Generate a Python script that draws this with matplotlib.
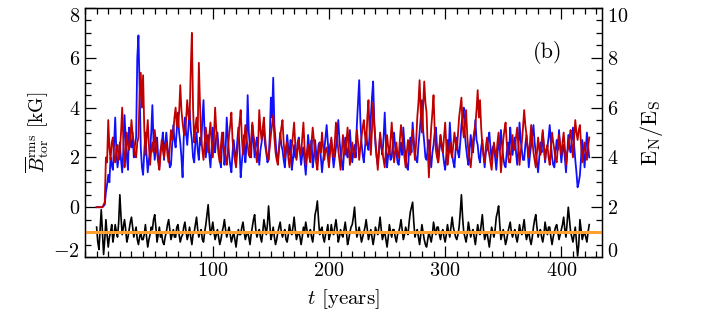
import numpy as np
import matplotlib
matplotlib.use("Agg")
import matplotlib.pyplot as plt
from matplotlib.ticker import MultipleLocator, FixedLocator

plt.rcParams["font.family"] = "cmr10"
plt.rcParams["mathtext.fontset"] = "cm"
plt.rcParams["axes.formatter.use_mathtext"] = True

# time axis [years], one sample per year
t = np.arange(0, 425)

# B_tor rms [kG], north (blue) and south (red)
b_north = [
    0, 0, 0, 0, 0, 0, 0.05, 0.1, 0.6, 0.9, 1.3, 1.0, 2.0, 1.7, 1.5, 2.5, 3.6, 2.2, 1.6, 2.0,
    2.6, 1.9, 1.4, 2.3, 3.7, 2.8, 2.0, 1.5, 3.2, 2.6, 2.4, 3.0, 2.0, 2.5, 2.8, 6.0, 6.9, 4.8, 2.4, 1.6,
    1.3, 2.2, 3.0, 2.1, 1.4, 1.9, 2.2, 3.0, 4.1, 2.6, 1.9, 2.4, 2.8, 2.0, 1.6, 2.3, 2.5, 3.0, 1.9, 2.6,
    3.0, 2.4, 2.1, 1.6, 1.7, 2.5, 3.3, 2.7, 2.4, 3.1, 3.8, 3.0, 2.6, 2.0, 1.2, 2.8, 3.6, 3.0, 2.5, 3.2,
    3.9, 3.1, 2.7, 2.0, 1.8, 2.6, 3.0, 2.3, 1.9, 2.8, 2.5, 3.5, 4.3, 2.9, 2.0, 2.6, 2.9, 2.1, 1.6, 2.4,
    3.2, 2.5, 2.2, 2.9, 3.0, 2.4, 1.9, 1.6, 2.6, 3.0, 1.7, 2.3, 3.6, 2.8, 2.1, 1.7, 1.4, 2.2, 2.7, 2.1,
    2.0, 2.6, 3.2, 2.4, 1.2, 1.8, 2.3, 2.9, 1.8, 2.4, 4.5, 3.0, 2.4, 2.0, 3.3, 2.7, 2.0, 2.5, 2.8, 2.2,
    1.7, 2.3, 2.6, 3.0, 3.1, 2.5, 2.2, 1.8, 1.9, 2.8, 4.4, 3.6, 5.2, 3.3, 2.7, 2.0, 1.9, 2.4, 3.0, 2.5,
    2.3, 1.9, 1.6, 2.2, 2.9, 2.4, 2.1, 2.7, 1.5, 1.9, 2.5, 2.0, 2.0, 2.6, 2.8, 2.2, 1.7, 2.1, 2.4, 1.8,
    1.3, 2.0, 2.9, 2.4, 2.1, 2.7, 1.6, 2.0, 2.7, 2.2, 1.9, 2.5, 2.6, 2.0, 1.4, 1.9, 2.3, 2.8, 3.3, 2.6,
    2.0, 2.5, 2.7, 2.1, 1.6, 2.0, 2.4, 2.9, 3.5, 2.7, 2.2, 1.8, 1.5, 2.2, 2.8, 2.3, 2.0, 2.6, 3.1, 2.4,
    1.8, 2.2, 2.5, 2.0, 3.3, 4.2, 5.1, 3.5, 2.6, 2.1, 1.8, 2.4, 3.0, 2.5, 2.3, 2.9, 3.6, 4.4, 5.05, 3.4,
    2.5, 2.0, 1.7, 2.3, 2.9, 2.4, 2.1, 2.8, 3.8, 2.6, 1.6, 2.1, 2.4, 1.9, 2.0, 2.6, 3.0, 2.4, 2.2, 1.8,
    1.7, 2.2, 2.6, 2.1, 3.2, 2.5, 2.0, 1.6, 1.5, 2.3, 2.8, 2.2, 3.4, 2.7, 2.2, 1.9, 1.8, 2.5, 3.0, 3.6,
    4.3, 3.1, 2.6, 2.0, 1.9, 2.4, 2.7, 2.1, 1.6, 2.2, 2.5, 3.0, 3.2, 2.4, 1.8, 2.3, 2.9, 2.4, 2.2, 1.8,
    1.5, 2.1, 2.7, 2.2, 3.4, 2.6, 2.1, 1.8, 1.6, 2.3, 2.8, 2.2, 2.0, 2.6, 3.3, 3.7, 4.0, 2.9, 2.4, 2.0,
    1.7, 2.3, 2.9, 2.4, 2.2, 2.8, 3.5, 2.7, 2.5, 2.0, 1.8, 2.4, 2.7, 2.1, 1.6, 2.2, 2.3, 2.7, 3.0, 2.4,
    1.9, 2.4, 2.5, 2.0, 1.5, 2.1, 2.7, 2.3, 3.1, 2.5, 2.0, 1.7, 1.6, 2.2, 2.6, 2.1, 3.2, 2.6, 2.1, 2.5,
    2.8, 2.2, 1.7, 2.3, 3.4, 2.7, 2.3, 1.9, 1.9, 2.5, 2.9, 2.3, 1.6, 2.1, 2.5, 2.9, 3.3, 2.6, 2.2, 1.8,
    1.4, 2.0, 2.6, 2.2, 3.0, 2.4, 1.8, 2.3, 2.4, 2.8, 3.3, 2.6, 2.0, 1.7, 1.6, 2.2, 2.7, 2.3, 3.1, 2.4,
    1.8, 2.3, 2.5, 2.0, 1.4, 2.1, 2.9, 2.4, 2.2, 2.7, 3.2, 2.5, 1.9, 1.4, 0.8, 1.0, 1.3, 2.0, 2.7, 2.2,
    1.6, 2.3, 3.0, 2.5, 2.0,
]
b_south = [
    0, 0, 0, 0, 0, 0, 0.1, 0.2, 2.0, 1.8, 3.5, 2.4, 1.9, 2.6, 2.8, 2.0, 1.8, 2.3, 2.5, 1.9,
    2.2, 3.0, 4.0, 2.7, 1.6, 2.2, 3.0, 2.5, 2.3, 2.8, 3.5, 2.9, 2.6, 2.1, 2.0, 2.6, 2.8, 4.5, 5.4, 4.0,
    5.3, 3.2, 2.1, 2.8, 3.5, 2.5, 1.7, 2.3, 2.6, 2.2, 3.1, 2.6, 2.2, 1.8, 1.5, 2.1, 2.7, 2.3, 2.0, 2.5,
    2.6, 2.1, 1.8, 2.4, 3.1, 2.7, 3.0, 3.6, 4.0, 3.3, 3.2, 3.8, 4.9, 3.9, 3.4, 3.0, 2.9, 3.5, 4.3, 3.7,
    3.5, 5.5, 7.0, 4.0, 2.6, 3.2, 3.6, 3.0, 5.8, 4.1, 2.8, 2.3, 1.9, 2.6, 3.2, 2.7, 2.2, 2.9, 3.4, 2.6,
    2.0, 2.8, 4.0, 3.1, 2.6, 2.1, 1.8, 2.5, 3.0, 2.4, 2.4, 2.0, 1.7, 2.3, 2.9, 3.3, 3.8, 2.7, 2.2, 1.9,
    1.6, 2.2, 2.8, 3.4, 3.9, 2.8, 2.1, 2.6, 3.3, 2.7, 2.5, 2.1, 2.0, 2.7, 3.4, 2.9, 2.6, 2.2, 1.8, 2.5,
    3.9, 3.1, 2.7, 3.2, 3.6, 2.8, 2.3, 2.0, 1.9, 2.4, 2.9, 3.3, 3.7, 2.8, 2.2, 1.9, 1.7, 2.3, 2.8, 3.2,
    3.5, 2.6, 2.0, 2.4, 2.6, 2.0, 1.6, 2.1, 2.4, 2.9, 3.4, 2.5, 1.9, 2.3, 2.7, 2.2, 2.1, 2.8, 3.4, 2.4,
    1.7, 2.2, 2.5, 2.0, 1.8, 2.6, 3.2, 2.7, 2.2, 1.8, 1.5, 2.1, 2.6, 2.2, 3.0, 2.4, 1.9, 2.3, 2.4, 2.0,
    1.6, 2.2, 2.8, 2.3, 2.0, 2.6, 3.4, 2.8, 2.3, 1.9, 1.5, 2.2, 2.9, 2.4, 2.1, 2.6, 3.2, 2.5, 1.7, 2.2,
    2.6, 2.2, 2.0, 2.5, 3.1, 2.6, 1.9, 2.4, 2.8, 3.2, 3.5, 2.9, 2.5, 3.6, 4.3, 3.0, 2.1, 3.1, 4.2, 3.3,
    2.7, 2.1, 1.5, 2.2, 3.0, 2.5, 2.2, 1.9, 1.6, 2.3, 2.9, 2.4, 2.1, 2.7, 3.4, 2.6, 1.8, 2.2, 2.6, 2.1,
    2.0, 2.7, 3.3, 2.8, 2.4, 2.0, 1.6, 2.2, 2.7, 2.3, 2.1, 2.6, 3.1, 2.5, 1.9, 2.6, 3.6, 4.2, 5.1, 3.8,
    3.0, 4.0, 5.05, 4.2, 3.8, 2.4, 1.2, 2.3, 3.2, 3.8, 4.5, 3.1, 2.3, 2.0, 1.8, 2.4, 2.9, 2.5, 2.2, 2.8,
    3.4, 2.5, 1.7, 2.1, 2.6, 2.2, 2.0, 2.5, 3.0, 2.6, 2.3, 2.9, 3.6, 4.0, 4.4, 3.3, 2.8, 3.3, 3.9, 2.9,
    2.2, 1.9, 1.6, 2.2, 2.7, 3.0, 3.3, 3.9, 4.7, 3.6, 4.3, 3.2, 2.5, 2.1, 1.8, 2.4, 2.8, 2.4, 2.1, 1.8,
    1.5, 2.1, 2.6, 2.2, 2.0, 2.6, 3.0, 2.4, 1.4, 2.0, 2.7, 3.1, 3.4, 2.6, 2.1, 1.8, 1.8, 2.4, 2.9, 2.3,
    2.3, 2.8, 3.2, 2.5, 1.7, 2.2, 2.6, 3.2, 3.9, 3.3, 2.9, 2.4, 2.0, 2.6, 3.3, 2.7, 2.2, 1.9, 1.6, 2.2,
    2.8, 2.3, 2.1, 2.6, 3.1, 2.5, 1.9, 2.3, 2.5, 2.0, 1.7, 2.4, 3.0, 2.6, 2.3, 1.9, 1.8, 2.4, 2.9, 2.5,
    2.1, 2.6, 3.0, 2.4, 1.7, 2.2, 2.4, 2.8, 3.1, 2.5, 2.0, 2.8, 3.5, 3.0, 2.7, 3.1, 3.3, 2.5, 1.8, 2.2,
    2.6, 2.2, 1.9, 2.4, 2.8,
]
# energy ratio E_N/E_S (right axis)
ratio = [
    1.2, 0.6, 0.3, 1.1, 1.9, 1.0, 0.1, 0.7, 1.5, 0.9, 0.4, 0.8, 1.0, 1.3, 0.6, 0.9, 1.3, 1.0, 0.8, 1.4,
    2.5, 1.6, 0.9, 1.2, 1.5, 1.1, 0.6, 0.8, 1.1, 1.4, 1.6, 1.2, 0.8, 1.0, 1.2, 0.7, 0.5, 0.8, 1.0, 0.7,
    0.7, 0.9, 1.3, 0.8, 0.4, 0.7, 0.9, 1.2, 1.1, 1.5, 1.7, 1.2, 0.6, 0.9, 1.2, 0.8, 0.9, 0.6, 0.5, 0.8,
    1.0, 1.3, 1.5, 1.1, 0.7, 0.9, 1.1, 0.8, 0.8, 1.2, 1.3, 0.9, 0.6, 0.8, 0.9, 1.2, 1.4, 1.0, 0.7, 0.9,
    1.2, 0.8, 0.5, 0.9, 1.0, 1.3, 1.6, 1.1, 0.8, 1.0, 1.1, 0.7, 0.6, 1.0, 1.3, 1.7, 2.1, 1.4, 0.9, 1.1,
    1.4, 1.0, 0.7, 0.9, 1.1, 0.8, 0.5, 0.7, 1.0, 1.2, 1.5, 1.1, 0.8, 1.0, 1.2, 0.9, 0.6, 0.8, 1.0, 0.7,
    0.4, 0.8, 1.1, 0.9, 0.9, 1.2, 1.4, 1.0, 0.7, 0.9, 1.0, 0.8, 0.5, 0.9, 1.2, 1.5, 1.7, 1.1, 0.8, 1.0,
    1.1, 0.8, 0.6, 1.0, 1.5, 1.2, 0.9, 1.3, 2.05, 1.4, 0.7, 0.9, 1.2, 0.8, 0.5, 0.7, 1.0, 1.2, 1.4, 1.0,
    0.8, 1.0, 1.1, 0.7, 0.6, 0.9, 1.3, 1.0, 0.9, 1.2, 1.6, 1.1, 0.7, 0.9, 1.0, 0.8, 0.5, 0.8, 1.2, 1.0,
    1.4, 1.1, 0.8, 1.0, 1.1, 0.8, 0.6, 1.0, 1.7, 1.9, 2.25, 1.5, 0.9, 1.1, 1.2, 0.8, 0.6, 0.9, 1.0, 1.3,
    0.7, 0.9, 1.3, 1.0, 0.9, 1.2, 1.5, 1.1, 0.6, 0.8, 1.1, 0.9, 0.8, 1.1, 1.4, 1.0, 0.5, 0.7, 1.0, 1.2,
    1.3, 1.6, 2.0, 1.3, 0.8, 1.0, 1.2, 0.9, 0.6, 0.8, 1.0, 1.2, 1.5, 1.1, 0.7, 0.9, 1.1, 0.8, 0.5, 0.8,
    1.2, 1.0, 0.9, 1.2, 1.6, 1.1, 0.7, 0.9, 1.0, 0.7, 0.4, 0.8, 1.3, 1.0, 0.8, 1.1, 1.1, 0.8, 0.6, 0.9,
    1.0, 1.2, 1.5, 1.1, 0.7, 0.9, 1.2, 1.0, 0.9, 1.4, 1.8, 2.0, 2.2, 1.4, 0.8, 1.0, 1.1, 0.8, 0.5, 0.9,
    1.3, 1.0, 0.7, 0.5, 0.4, 0.7, 1.0, 0.8, 0.6, 0.9, 1.4, 1.1, 0.9, 1.2, 1.2, 0.9, 0.7, 1.0, 1.1, 0.8,
    0.6, 0.9, 1.3, 1.0, 0.8, 1.2, 1.6, 1.2, 1.0, 0.8, 0.7, 0.9, 1.2, 1.8, 2.5, 1.6, 1.0, 0.8, 0.6, 0.9,
    1.4, 1.1, 0.8, 1.0, 1.1, 0.8, 0.5, 0.9, 1.3, 1.0, 0.9, 1.3, 1.7, 1.1, 0.7, 0.9, 1.0, 0.7, 0.4, 0.8,
    1.2, 1.0, 0.8, 1.1, 1.6, 1.8, 2.05, 1.3, 0.7, 0.9, 1.1, 0.8, 0.5, 0.7, 1.0, 1.2, 1.4, 1.0, 0.8, 1.0,
    1.1, 0.8, 0.6, 0.9, 1.3, 1.0, 0.9, 1.2, 1.5, 1.0, 0.7, 0.9, 1.0, 0.7, 0.5, 0.8, 1.2, 1.5, 1.7, 1.2,
    0.8, 1.0, 1.1, 0.8, 0.6, 0.9, 1.4, 1.1, 0.9, 1.2, 1.2, 0.8, 0.5, 0.8, 1.0, 1.2, 1.3, 1.0, 0.7, 0.9,
    1.1, 1.3, 1.6, 1.1, 0.8, 1.4, 2.0, 1.5, 1.0, 0.8, 0.6, 0.9, 1.2, 0.6, 0.04, 0.5, 1.5, 1.1, 0.7, 0.9,
    1.0, 0.8, 0.6, 1.0, 1.3,
]
ratio_ref = 1.0

x_ticks = [100, 200, 300, 400]
left_ticks = [-2, 0, 2, 4, 6, 8]
right_ticks = [0, 2, 4, 6, 8, 10]

fig = plt.figure(figsize=(7.08, 3.14), dpi=100)
ax = fig.add_axes([85 / 708, 1 - 257 / 314, 517 / 708, 249 / 314])

ax.plot(t, b_north, color="#1010ff", lw=1.3)
ax.plot(t, b_south, color="#c00000", lw=1.3)

ax.set_xlim(-10, 435)
ax.set_ylim(-2, 8)
ax.xaxis.set_major_locator(FixedLocator(x_ticks))
ax.xaxis.set_minor_locator(MultipleLocator(10))
ax.yaxis.set_major_locator(FixedLocator(left_ticks))
ax.yaxis.set_minor_locator(MultipleLocator(0.5))
ax.tick_params(which="both", direction="in", top=True, right=False, labelsize=14.5)
ax.tick_params(which="major", length=8, width=0.9)
ax.tick_params(which="minor", length=4, width=0.9)
ax.set_xlabel(r"$t$ [years]", fontsize=15, labelpad=5)
ax.set_ylabel(r"$\overline{B}^{\rm rms}_{\rm tor}$ [kG]", fontsize=14, labelpad=2)

ax2 = ax.twinx()
ax2.plot(t, ratio, color="black", lw=1.2)
ax2.axhline(ratio_ref, color="#ffa030", lw=2.2)
ax2.set_ylim(0, 10)
ax2.yaxis.set_major_locator(FixedLocator(right_ticks))
ax2.yaxis.set_minor_locator(MultipleLocator(0.5))
ax2.tick_params(which="both", direction="in", labelsize=14.5)
ax2.tick_params(which="major", length=8, width=0.9)
ax2.tick_params(which="minor", length=4, width=0.9)
ax2.set_ylabel(r"$\rm E_N/E_S$", fontsize=16, labelpad=7)

# edge labels sit inside the axis range, as in the original
for a in (ax, ax2):
    ticks = a.yaxis.get_major_ticks()
    ticks[0].label1.set_va("baseline")
    ticks[0].label2.set_va("baseline")
    ticks[-1].label1.set_va("top")
    ticks[-1].label2.set_va("top")

ax.text(0.894, 0.823, "(b)", transform=ax.transAxes, fontsize=16, ha="center", va="center")

for a in (ax, ax2):
    for s in a.spines.values():
        s.set_linewidth(0.9)

fig.savefig("out.png", dpi=100)
